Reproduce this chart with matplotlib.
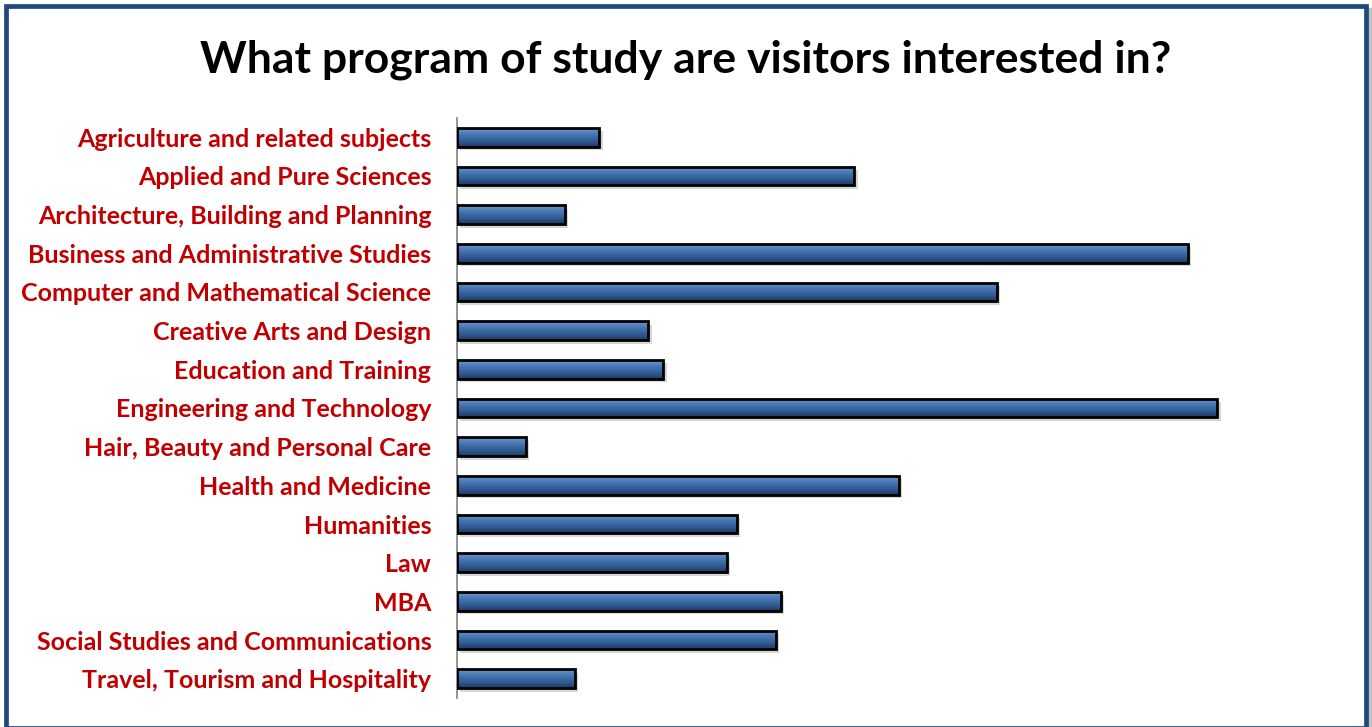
import numpy as np
import matplotlib
matplotlib.use("Agg")
import matplotlib.pyplot as plt
from matplotlib.colors import LinearSegmentedColormap
from matplotlib.patches import Rectangle
import matplotlib.patheffects as pe

# Share of visitors (%) by programme of interest
programs = [
    "Agriculture and related subjects",
    "Applied and Pure Sciences",
    "Architecture, Building and Planning",
    "Business and Administrative Studies",
    "Computer and Mathematical Science",
    "Creative Arts and Design",
    "Education and Training",
    "Engineering and Technology",
    "Hair, Beauty and Personal Care",
    "Health and Medicine",
    "Humanities",
    "Law",
    "MBA",
    "Social Studies and Communications",
    "Travel, Tourism and Hospitality",
]
share = [2.9, 8.1, 2.2, 14.9, 11.0, 3.9, 4.2, 15.5, 1.4, 9.0, 5.7, 5.5, 6.6, 6.5, 2.4]
title = "What program of study are visitors interested in?"

W, H = 1372, 727
fig = plt.figure(figsize=(W / 100, H / 100), dpi=100)
fig.patch.set_facecolor("white")

# plot area in pixel terms
left_px, right_px, top_px, bot_px = 457, 1264, 118, 698
ax = fig.add_axes([left_px / W, 1 - bot_px / H,
                   (right_px - left_px) / W, (bot_px - top_px) / H])

n = len(programs)
ypos = np.arange(n)[::-1]
bar_h = 0.49
xmax = 16.45

# bevelled blue fill
cmap = LinearSegmentedColormap.from_list(
    "bevel",
    [(0.0, "#7DA2D4"), (0.14, "#5C88C3"), (0.40, "#4272AE"),
     (0.70, "#2F5A91"), (1.0, "#1D3A62")])
grad = np.linspace(0, 1, 64).reshape(-1, 1)

fill = ax.barh(ypos, share, height=bar_h, color="#345F98", edgecolor="none",
               zorder=2)
for p in fill:
    p.set_path_effects([pe.SimplePatchShadow(offset=(2.5, -2.5),
                                             shadow_rgbFace="#8a8a8a",
                                             alpha=0.35),
                        pe.Normal()])
for p, y, v in zip(fill, ypos, share):
    im = ax.imshow(grad, extent=(0, v, y - bar_h / 2, y + bar_h / 2),
                   origin="upper", aspect="auto", cmap=cmap, zorder=3,
                   interpolation="bilinear")
    im.set_clip_path(p)

ax.barh(ypos, share, height=bar_h, facecolor="none", edgecolor="black",
        linewidth=2.0, zorder=4)

ax.set_xlim(0, xmax)
ax.set_ylim(-0.5, n - 0.5)
ax.set_yticks(ypos)
ax.set_yticklabels(programs, fontfamily="Lato", fontweight="bold",
                   fontsize=18, color="#C00000")
ax.tick_params(axis="y", length=0, pad=18.5)
ax.set_xticks([])
for s in ("top", "right", "bottom"):
    ax.spines[s].set_visible(False)
ax.spines["left"].set_color("#8C8C8C")
ax.spines["left"].set_linewidth(1.3)
ax.set_facecolor("none")

fig.text(686 / W, 1 - 73 / H, title, ha="center", va="baseline",
         fontfamily="Lato", fontweight="bold", fontsize=32, color="black")

# frame around the chart with a light shadow on the right
fig.patches.append(Rectangle((1368 / W, 0), 4 / W, 1 - 8 / H,
                             transform=fig.transFigure, facecolor="#C4C4C4",
                             edgecolor="none", zorder=0))
fig.patches.append(Rectangle((6 / W, -1 / H), 1359.5 / W, 1 - 5 / H,
                             transform=fig.transFigure, facecolor="none",
                             edgecolor="#1F497D", linewidth=3.4, zorder=5))

fig.savefig("out.png", dpi=100)
